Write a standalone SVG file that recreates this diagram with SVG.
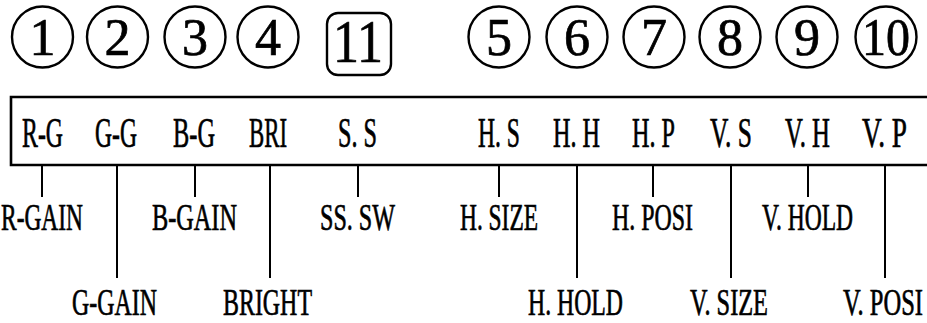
<svg xmlns="http://www.w3.org/2000/svg" width="927" height="323" viewBox="0 0 927 323">
<style>
.c{fill:none;stroke:#000;stroke-width:2.4}
.n{font-family:"Liberation Serif","Times New Roman",serif;font-size:52px;text-anchor:middle;fill:#000;stroke:#000;stroke-width:0.7}
.t{font-family:"Liberation Serif","Times New Roman",serif;font-size:42px;fill:#000;stroke:#000;stroke-width:0.7}
.b{font-family:"Liberation Serif","Times New Roman",serif;font-size:38px;fill:#000;stroke:#000;stroke-width:0.7}
.ln{stroke:#000;stroke-width:2;fill:none}
</style>
<rect width="927" height="323" fill="#fff"/>
<g id="markers">
<g id="m1"><circle class="c" cx="42.5" cy="37" r="30.5"/><text class="n" x="42.5" y="55">1</text></g>
<g id="m2"><circle class="c" cx="117.5" cy="37" r="30.5"/><text class="n" x="117.5" y="55">2</text></g>
<g id="m3"><circle class="c" cx="195" cy="37" r="30.5"/><text class="n" x="195" y="55">3</text></g>
<g id="m4"><circle class="c" cx="268" cy="37" r="30.5"/><text class="n" x="268" y="55">4</text></g>
<g id="m11"><rect class="c" x="327" y="13" width="64" height="62" rx="11"/><text class="n" x="358" y="62" style="font-size:62px" textLength="50" lengthAdjust="spacingAndGlyphs">11</text></g>
<g id="m5"><circle class="c" cx="499" cy="37" r="30.5"/><text class="n" x="499" y="55">5</text></g>
<g id="m6"><circle class="c" cx="577" cy="37" r="30.5"/><text class="n" x="577" y="55">6</text></g>
<g id="m7"><circle class="c" cx="654" cy="37" r="30.5"/><text class="n" x="654" y="55">7</text></g>
<g id="m8"><circle class="c" cx="730" cy="37" r="30.5"/><text class="n" x="730" y="55">8</text></g>
<g id="m9"><circle class="c" cx="807" cy="37" r="30.5"/><text class="n" x="807" y="55">9</text></g>
<g id="m10"><circle class="c" cx="886" cy="37" r="30.5"/><text class="n" x="886" y="55" textLength="48" lengthAdjust="spacingAndGlyphs">10</text></g>
</g>
<g id="panel">
<path d="M927 97 H11 V165 H927" fill="none" stroke="#000" stroke-width="2.6"/>
<text class="t" x="22" y="147" textLength="41" lengthAdjust="spacingAndGlyphs">R-G</text>
<text class="t" x="95" y="147" textLength="42" lengthAdjust="spacingAndGlyphs">G-G</text>
<text class="t" x="173" y="147" textLength="42" lengthAdjust="spacingAndGlyphs">B-G</text>
<text class="t" x="249" y="147" textLength="38" lengthAdjust="spacingAndGlyphs">BRI</text>
<text class="t" x="338" y="147" textLength="39" lengthAdjust="spacingAndGlyphs">S. S</text>
<text class="t" x="478" y="147" textLength="42" lengthAdjust="spacingAndGlyphs">H. S</text>
<text class="t" x="553" y="147" textLength="47" lengthAdjust="spacingAndGlyphs">H. H</text>
<text class="t" x="632" y="147" textLength="43" lengthAdjust="spacingAndGlyphs">H. P</text>
<text class="t" x="710" y="147" textLength="42" lengthAdjust="spacingAndGlyphs">V. S</text>
<text class="t" x="785" y="147" textLength="45" lengthAdjust="spacingAndGlyphs">V. H</text>
<text class="t" transform="translate(862 147) scale(0.6 1)" x="0" y="0" textLength="75" lengthAdjust="spacingAndGlyphs">V. P</text>
</g>
<g id="connectors">
<line class="ln" x1="42" y1="165" x2="42" y2="197"/>
<line class="ln" x1="117" y1="165" x2="117" y2="278"/>
<line class="ln" x1="195" y1="165" x2="195" y2="197"/>
<line class="ln" x1="270" y1="165" x2="270" y2="278"/>
<line class="ln" x1="358" y1="165" x2="358" y2="197"/>
<line class="ln" x1="499" y1="165" x2="499" y2="197"/>
<line class="ln" x1="577" y1="165" x2="577" y2="278"/>
<line class="ln" x1="653" y1="165" x2="653" y2="197"/>
<line class="ln" x1="731" y1="165" x2="731" y2="278"/>
<line class="ln" x1="808" y1="165" x2="808" y2="197"/>
<line class="ln" x1="885" y1="165" x2="885" y2="278"/>
</g>
<g id="labels">
<text class="b" x="1" y="230" textLength="82" lengthAdjust="spacingAndGlyphs">R-GAIN</text>
<text class="b" x="152" y="230" textLength="85" lengthAdjust="spacingAndGlyphs">B-GAIN</text>
<text class="b" x="320" y="230" textLength="75" lengthAdjust="spacingAndGlyphs">SS. SW</text>
<text class="b" x="460" y="230" textLength="78" lengthAdjust="spacingAndGlyphs">H. SIZE</text>
<text class="b" x="612" y="230" textLength="81" lengthAdjust="spacingAndGlyphs">H. POSI</text>
<text class="b" x="762" y="230" textLength="91" lengthAdjust="spacingAndGlyphs">V. HOLD</text>
<text class="b" x="72" y="315" textLength="85" lengthAdjust="spacingAndGlyphs">G-GAIN</text>
<text class="b" x="223" y="315" textLength="89" lengthAdjust="spacingAndGlyphs">BRIGHT</text>
<text class="b" x="528" y="315" textLength="95" lengthAdjust="spacingAndGlyphs">H. HOLD</text>
<text class="b" x="690" y="315" textLength="78" lengthAdjust="spacingAndGlyphs">V. SIZE</text>
<text class="b" transform="translate(843 315) scale(0.62 1)" x="0" y="0" textLength="129" lengthAdjust="spacingAndGlyphs">V. POSI</text>
</g>
</svg>
